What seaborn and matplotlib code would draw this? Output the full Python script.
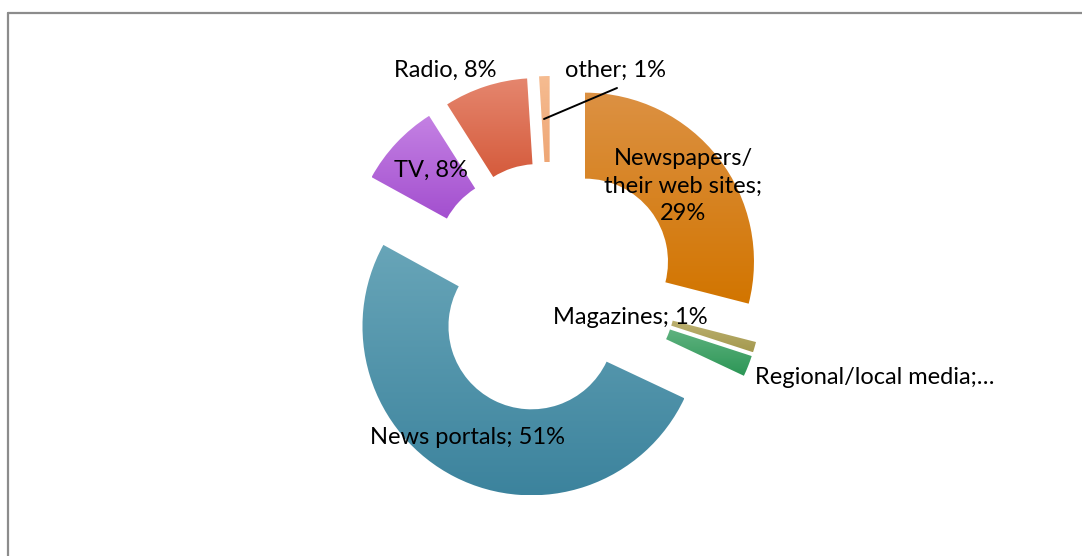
import numpy as np
import matplotlib
matplotlib.use("Agg")
import matplotlib.pyplot as plt
from matplotlib.lines import Line2D
from matplotlib.colors import to_rgb
import seaborn as sns

# ---- data ----
categories = ["Newspapers/their web sites", "Magazines", "Regional/local media",
              "News portals", "TV", "Radio", "other"]
values = [29, 1, 2, 51, 8, 8, 1]
label_texts = ["Newspapers/\ntheir web sites;\n29%", "Magazines; 1%",
               "Regional/local media;…", "News portals; 51%", "TV, 8%",
               "Radio, 8%", "other; 1%"]
top_colors = ["#DC9143", "#BCB06F", "#5FB27F", "#68A5B8", "#C481E3", "#E5866E", "#F6BC91"]
bottom_colors = ["#D27500", "#A4994F", "#2C9656", "#3C839D", "#A34FCF", "#D55B3C", "#EEA675"]

sns.set_style("white")
plt.rcParams["font.family"] = ["Lato", "DejaVu Sans"]

W, H = 1082, 556
R = 169.0          # outer radius in px
CX, CY = 551.0, 288.0   # donut centre in px (from top-left)

fig = plt.figure(figsize=(W / 100, H / 100), dpi=100)
ax = fig.add_axes([0, 0, 1, 1])

wedges, _ = ax.pie(values, startangle=90, counterclock=False, radius=1.0,
                   explode=[43 / R] * len(values),
                   wedgeprops=dict(width=86 / R, linewidth=0, edgecolor="none"))

for w, ct, cb in zip(wedges, top_colors, bottom_colors):
    ext = w.get_path().get_extents()
    t = np.linspace(0, 1, 256)[:, None]
    c0 = np.array(to_rgb(ct)); c1 = np.array(to_rgb(cb))
    img = (c0[None, None, :] * (1 - t[..., None]) + c1[None, None, :] * t[..., None])
    im = ax.imshow(img, extent=[ext.x0, ext.x1, ext.y0, ext.y1], origin="upper",
                   aspect="auto", interpolation="bilinear", zorder=2)
    im.set_clip_path(w)
    w.set_facecolor("none")


def px(x, y):
    return (x - CX) / R, (CY - y) / R


label_pos = [(683, 186), (630, 318), (875, 378), (468, 438), (431, 170), (445, 70), (616, 70)]
for txt, (x, y) in zip(label_texts, label_pos):
    ax.text(*px(x, y), txt, ha="center", va="center", fontsize=17, color="black",
            linespacing=1.4, zorder=5)

# leader line for "other"
(x0, y0), (x1, y1) = px(544, 119), px(617, 88)
ax.plot([x0, x1], [y0, y1], color="black", lw=1.4, zorder=4)

ax.set_xlim(-CX / R, (W - CX) / R)
ax.set_ylim(-(H - CY) / R, CY / R)
ax.set_aspect("equal")
ax.axis("off")

# chart frame
fig.add_artist(Line2D([8 / W, 1], [1 - 13 / H, 1 - 13 / H], color="#8c8c8c", lw=1.6))
fig.add_artist(Line2D([8 / W, 8 / W], [0, 1 - 13 / H], color="#8c8c8c", lw=1.6))

fig.savefig("out.png", dpi=100)
